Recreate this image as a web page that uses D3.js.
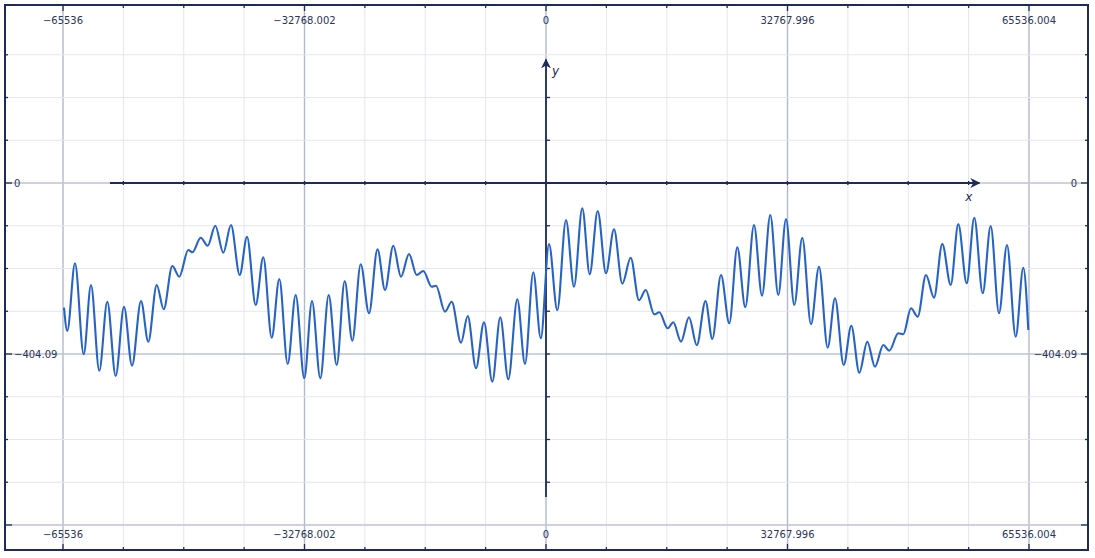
<!DOCTYPE html>
<html>
<head>
<meta charset="utf-8">
<script src="https://cdn.jsdelivr.net/npm/d3@7"></script>
<style>
html,body{margin:0;padding:0;background:#fff;}
svg{display:block;}
text{font-family:"DejaVu Sans",Verdana,sans-serif;}
</style>
</head>
<body>
<svg id="chart" width="1095" height="558"></svg>
<script>
// ---- data ----
const xDomain = [-65536, 65536.004];
const yRef = [0, -404.09];
const xTickLabels = ["−65536", "−32768.002", "0", "32767.996", "65536.004"];
const xTickValues = [-65536, -32768.002, 0, 32767.996, 65536.004];
const yTickLabels = ["0", "−404.09"];
const yTickValues = [0, -404.09];

const seriesX = [-65400,-64953,-63908,-62727,-61737,-60611,-59525,-58385,-57259,-56174,
  -54953,-53962,-52822,-51872,-50706,-49756,-48535,-47992,-46852,-45902,
  -44871,-43786,-42741,-41560,-40570,-39389,-38358,-37218,-36187,-35048,
  -33962,-32795,-31750,-30624,-29484,-28399,-27313,-26282,-25143,-24016,
  -22863,-21845,-20719,-19675,-18589,-17544,-16649,-15509,-14926,-13704,
  -12795,-11533,-10624,-9498,-8413,-7286,-6201,-5115,-3894,-2850,
  -1723,-706,407,1533,2714,3799,4925,5929,7015,8141,
  9226,10353,11492,12619,13528,14695,15373,16513,17273,18317,
  19403,20461,21642,22564,23745,24871,25956,27042,28222,29308,
  30434,31519,32564,33690,34776,35956,37042,38222,39213,40393,
  41424,42510,43595,44640,45766,46580,47802,48480,49525,50434,
  51560,52646,53772,54912,55943,57083,58114,59253,60339,61465,
  62551,63731,64762,65441];
const seriesY = [-294.7,-349.7,-189.8,-404.8,-241.0,-443.6,-280.5,-456.1,-292.3,-431.7,
  -278.8,-375.0,-241.0,-298.5,-196.1,-221.4,-158.3,-163.8,-129.3,-148.2,
  -100.9,-164.9,-99.3,-217.4,-126.9,-288.3,-175.6,-365.6,-226.9,-427.7,
  -264.7,-461.5,-278.8,-461.5,-264.7,-430.1,-231.6,-372.7,-192.1,-307.9,
  -156.4,-252.9,-148.2,-221.4,-167.8,-217.4,-208.0,-245.1,-242.7,-304.1,
  -280.5,-377.4,-314.3,-437.9,-329.2,-469.5,-317.4,-463.9,-274.8,-427.7,
  -211.0,-367.0,-144.1,-300.8,-87.4,-245.1,-59.8,-215.7,-66.2,-213.4,
  -109.4,-238.0,-176.5,-277.2,-252.9,-310.3,-305.5,-343.4,-329.2,-375.0,
  -317.4,-383.5,-278.8,-368.6,-217.4,-331.5,-151.9,-293.7,-99.3,-266.3,
  -75.6,-264.7,-85.1,-288.3,-129.3,-333.9,-197.8,-389.2,-272.5,-430.1,
  -337.2,-448.3,-375.0,-434.1,-382.8,-396.3,-355.2,-357.5,-296.1,-315.9,
  -217.4,-271.0,-144.1,-241.0,-96.9,-237.0,-82.0,-260.6,-101.6,-307.9,
  -146.5,-363.2,-200.2,-347.4];

// ---- layout ----
const svg = d3.select("#chart");
const frame = {l:5, t:5, r:1088, b:550};
const x = d3.scaleLinear().domain(xDomain).range([63, 1029]);
const y = d3.scaleLinear().domain(yRef).range([183, 354]);

const xStep = 8192;
const yStep = 404.09 / 4;
const navy = "#1e2b58";
const textCol = "#2a3558";

const xGrid = d3.range(-8, 9).map(i => i * xStep);
const yGrid = d3.range(-8, 4).map(i => i * yStep);
const isMajorX = v => Math.abs(Math.round(v / xStep)) % 4 === 0;
const isMajorY = v => Math.abs(Math.round(v / yStep)) % 4 === 0;

const grid = svg.append("g");
grid.selectAll("line.vx").data(xGrid).join("line")
  .attr("x1", d => x(d)).attr("x2", d => x(d))
  .attr("y1", frame.t).attr("y2", frame.b)
  .attr("stroke", d => isMajorX(d) ? "#b4b8cc" : "#e4e6f0")
  .attr("stroke-width", d => isMajorX(d) ? 1.4 : 1);
grid.selectAll("line.hy").data(yGrid).join("line")
  .attr("x1", frame.l).attr("x2", frame.r)
  .attr("y1", d => y(d)).attr("y2", d => y(d))
  .attr("stroke", d => isMajorY(d) ? "#bfc2d4" : "#e4e6f0")
  .attr("stroke-width", d => isMajorY(d) ? 1.4 : 1);

// border ticks
const bt = svg.append("g").attr("stroke", navy).attr("stroke-width", 1.3);
xGrid.forEach(d => {
  const len = isMajorX(d) ? 6 : 3;
  bt.append("line").attr("x1", x(d)).attr("x2", x(d)).attr("y1", frame.t).attr("y2", frame.t + len);
  bt.append("line").attr("x1", x(d)).attr("x2", x(d)).attr("y1", frame.b).attr("y2", frame.b - len);
});
yGrid.forEach(d => {
  const len = isMajorY(d) ? 7 : 3;
  bt.append("line").attr("y1", y(d)).attr("y2", y(d)).attr("x1", frame.l).attr("x2", frame.l + len);
  bt.append("line").attr("y1", y(d)).attr("y2", y(d)).attr("x1", frame.r).attr("x2", frame.r - len);
});

// frame
svg.append("rect").attr("x", frame.l).attr("y", frame.t)
  .attr("width", frame.r - frame.l).attr("height", frame.b - frame.t)
  .attr("fill", "none").attr("stroke", navy).attr("stroke-width", 2);

// tick labels
const lab = svg.append("g").attr("fill", textCol).attr("font-size", 10);
xTickValues.forEach((v, i) => {
  lab.append("text").attr("x", x(v)).attr("y", 24).attr("text-anchor", "middle").text(xTickLabels[i]);
  lab.append("text").attr("x", x(v)).attr("y", 538).attr("text-anchor", "middle").text(xTickLabels[i]);
});
yTickValues.forEach((v, i) => {
  lab.append("text").attr("x", 14).attr("y", y(v) + 3.5).attr("text-anchor", "start").text(yTickLabels[i]);
  lab.append("text").attr("x", 1077).attr("y", y(v) + 3.5).attr("text-anchor", "end").text(yTickLabels[i]);
});

// axes with arrows
const axisX = [-59160, 58800];
const axisY = [-742, 292];
const defs = svg.append("defs");
defs.append("marker").attr("id", "arr").attr("viewBox", "0 0 10 10")
  .attr("refX", 9).attr("refY", 5).attr("markerWidth", 10).attr("markerHeight", 10)
  .attr("markerUnits", "userSpaceOnUse").attr("orient", "auto")
  .append("path").attr("d", "M0,0 L10,5 L0,10 L3,5 Z").attr("fill", navy);

const ax = svg.append("g");
ax.append("line").attr("x1", x(axisX[0])).attr("x2", x(axisX[1]))
  .attr("y1", y(0)).attr("y2", y(0))
  .attr("stroke", navy).attr("stroke-width", 1.8).attr("marker-end", "url(#arr)");
ax.append("line").attr("x1", x(0)).attr("x2", x(0))
  .attr("y1", y(axisY[0])).attr("y2", y(axisY[1]))
  .attr("stroke", navy).attr("stroke-width", 1.8).attr("marker-end", "url(#arr)");
xGrid.filter(d => d > axisX[0] && d < axisX[1]).forEach(d => {
  ax.append("line").attr("x1", x(d)).attr("x2", x(d)).attr("y1", y(0) - 2).attr("y2", y(0) + 2)
    .attr("stroke", navy).attr("stroke-width", 1.3);
});
yGrid.filter(d => d > axisY[0] && d < axisY[1] && d !== 0).forEach(d => {
  ax.append("line").attr("x1", x(0)).attr("x2", x(0) + 4).attr("y1", y(d)).attr("y2", y(d))
    .attr("stroke", navy).attr("stroke-width", 1.3);
});
ax.append("text").attr("x", x(0) + 6).attr("y", y(axisY[1]) + 16)
  .attr("font-family", "DejaVu Serif, serif").attr("font-style", "italic")
  .attr("font-size", 12).attr("fill", navy).text("y");
ax.append("text").attr("x", x(axisX[1]) - 14).attr("y", y(0) + 18)
  .attr("font-family", "DejaVu Serif, serif").attr("font-style", "italic")
  .attr("font-size", 12).attr("fill", navy).text("x");

// curve
const pts = seriesX.map((v, i) => [v, seriesY[i]]);
const line = d3.line().x(d => x(d[0])).y(d => y(d[1])).curve(d3.curveMonotoneX);
svg.append("path").datum(pts).attr("d", line)
  .attr("fill", "none").attr("stroke", "#2763c4").attr("stroke-width", 2.1)
  .attr("stroke-linejoin", "round");
</script>
</body>
</html>
